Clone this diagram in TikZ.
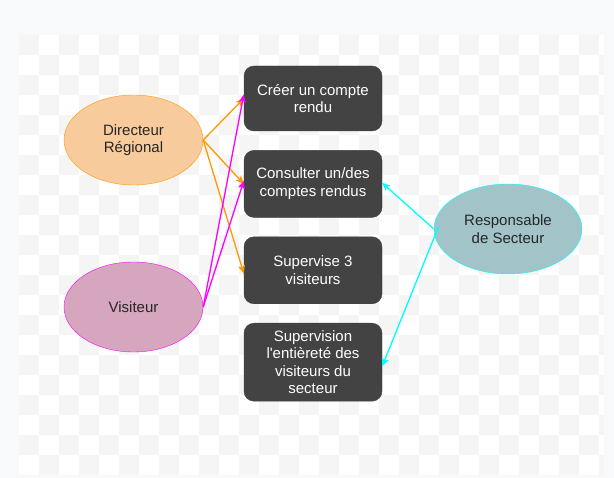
\documentclass[tikz,border=0pt]{standalone}
\usepackage{fontspec}
\setmainfont{Liberation Sans}
\usepackage{xcolor}
\definecolor{boxgrey}{HTML}{434343}
\definecolor{dirfill}{HTML}{F8CB9C}
\definecolor{dirline}{HTML}{FF9900}
\definecolor{visfill}{HTML}{D5A6BD}
\definecolor{visline}{HTML}{FF00FF}
\definecolor{respfill}{HTML}{A2C4C9}
\definecolor{respline}{HTML}{00FFFF}
\definecolor{pagebg}{HTML}{F8F9FB}
\definecolor{checker}{HTML}{F5F5F5}
\usetikzlibrary{positioning, arrows.meta, shapes.geometric}

\begin{document}
\begin{tikzpicture}[
  x=1pt, y=-1pt,
  font=\fontsize{15}{17.6}\selectfont,
  actor/.style={ellipse, minimum width=139pt, minimum height=90pt, inner sep=0pt,
                align=center, text=black!85},
  task/.style={draw=black!75, fill=boxgrey, rounded corners=10pt, text=white,
               minimum width=138pt, inner sep=2pt, align=center},
  flow/.style={-{Stealth[length=8pt, width=7pt, inset=2pt]}, line width=1.3pt}
]
  % page and checkered canvas
  \fill[pagebg] (0,0) rectangle (614,478);
  \fill[white] (19,35) rectangle (604,475);
  \begin{scope}
    \clip (19,35) rectangle (604,475);
    \foreach \i in {0,2,...,28}
      \foreach \j in {0,2,...,20} {
        \fill[checker] (19+20*\i,35+20*\j) rectangle ++(20,20);
        \fill[checker] (39+20*\i,55+20*\j) rectangle ++(20,20);
      }
  \end{scope}
  \useasboundingbox (0,0) rectangle (614,478);

  % actors
  \node[actor, draw=dirline, fill=dirfill]   (dir)  at (133.5,140) {Directeur\\Régional};
  \node[actor, draw=visline, fill=visfill]   (vis)  at (133.5,307) {Visiteur};
  \node[actor, draw=respline, fill=respfill, minimum width=148pt]
                                             (resp) at (508,229)   {Responsable\\de Secteur};

  % tasks
  \node[task, minimum height=65pt] (creer) at (313,98.5) {Créer un compte\\rendu};
  \node[task, minimum height=67pt, below=19pt of creer] (consult) {Consulter un/des\\comptes rendus};
  \node[task, minimum height=67pt, below=19pt of consult] (superv) {Supervise 3\\visiteurs};
  \node[task, minimum height=78pt, below=19pt of superv] (secteur)
       {Supervision\\l\textquotesingle entièreté des\\visiteurs du\\secteur};

  % links
  \draw[flow, dirline] (dir.east) -- (creer.west);
  \draw[flow, dirline] (dir.east) -- (consult.west);
  \draw[flow, dirline] (dir.east) -- ([yshift=-3pt]superv.west);

  \draw[flow, visline] (vis.east) -- ([yshift=4pt]creer.west);
  \draw[flow, visline] (vis.east) -- ([yshift=3pt]consult.west);

  \draw[flow, respline] (resp.west) -- ([yshift=1pt]consult.east);
  \draw[flow, respline] ([xshift=5pt,yshift=3pt]resp.west) -- ([yshift=-4pt]secteur.east);
\end{tikzpicture}
\end{document}
